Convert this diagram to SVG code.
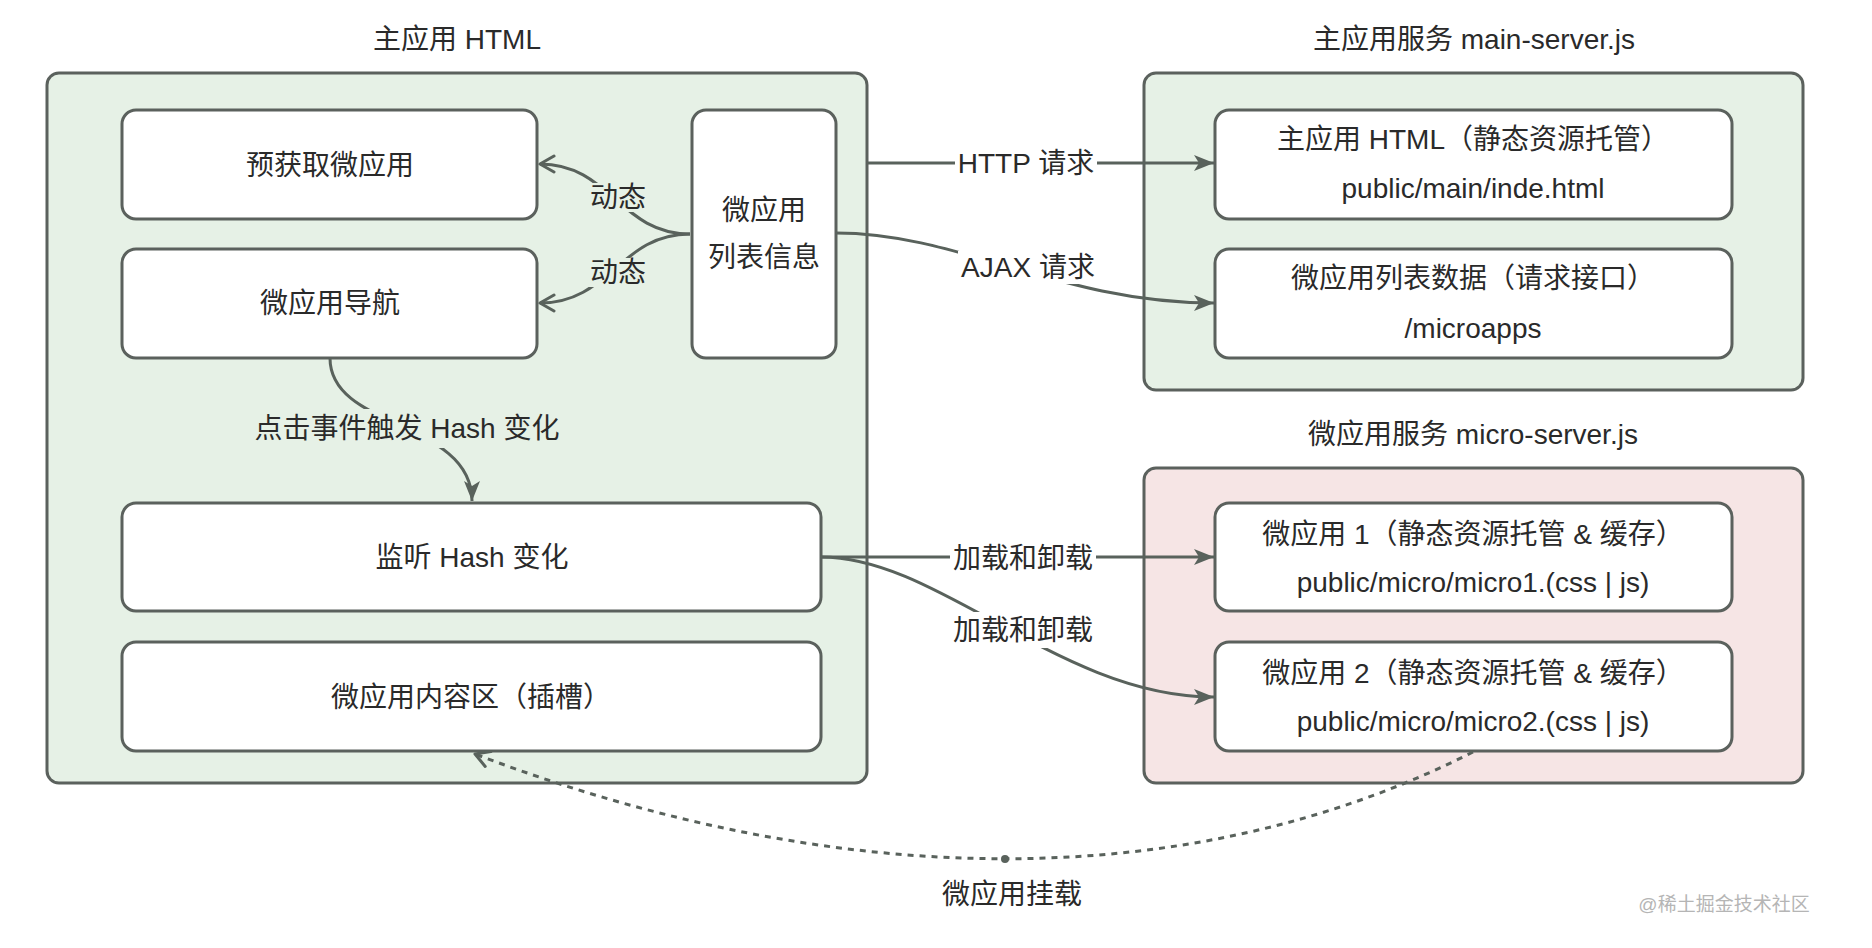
<svg xmlns="http://www.w3.org/2000/svg" width="1872" height="948" viewBox="0 0 1872 948">
<style>
  text { font-family: "Liberation Sans", "Noto Sans CJK SC", sans-serif; font-size: 28px; fill: #2a2a2a; text-anchor: middle; }
  .container-green { fill: #e6f1e6; stroke: #5b615d; stroke-width: 3; }
  .container-pink { fill: #f6e5e5; stroke: #5b615d; stroke-width: 3; }
  .node { fill: #ffffff; stroke: #5b615d; stroke-width: 3; }
  .edge { fill: none; stroke: #59625c; stroke-width: 3; }
  .dotted { fill: none; stroke: #59625c; stroke-width: 3; stroke-dasharray: 6 6; }
  .bg-green { fill: #e6f1e6; }
  .bg-white { fill: #ffffff; }
  .watermark { font-size: 19px; fill: #b5b5b5; }
</style>
<defs>
  <marker id="arrowFilled" markerUnits="userSpaceOnUse" markerWidth="24" markerHeight="20" refX="21" refY="9" orient="auto">
    <path d="M1,1 L21,9 L1,17 L6,9 Z" fill="#59625c"/>
  </marker>
  <marker id="arrowOpen" markerUnits="userSpaceOnUse" markerWidth="22" markerHeight="22" refX="17" refY="10" orient="auto">
    <path d="M3,2 L17,10 L3,18" fill="none" stroke="#59625c" stroke-width="3" stroke-linecap="round" stroke-linejoin="round"/>
  </marker>
</defs>
<rect width="1872" height="948" fill="#ffffff"/>

<g id="main-html">
  <text x="457" y="49">主应用 HTML</text>
  <rect class="container-green" x="47" y="73" width="820" height="710" rx="12"/>
</g>
<g id="main-server">
  <text x="1474" y="49">主应用服务 main-server.js</text>
  <rect class="container-green" x="1144" y="73" width="659" height="317" rx="12"/>
</g>
<g id="micro-server">
  <text x="1473" y="444">微应用服务 micro-server.js</text>
  <rect class="container-pink" x="1144" y="468" width="659" height="315" rx="12"/>
</g>

<g id="node-prefetch">
  <rect class="node" x="122" y="110" width="415" height="109" rx="14"/>
  <text x="330" y="175">预获取微应用</text>
</g>
<g id="node-nav">
  <rect class="node" x="122" y="249" width="415" height="109" rx="14"/>
  <text x="330" y="313">微应用导航</text>
</g>
<g id="node-list">
  <rect class="node" x="692" y="110" width="144" height="248" rx="14"/>
  <text x="764" y="220">微应用</text>
  <text x="764" y="267">列表信息</text>
</g>
<g id="node-listen">
  <rect class="node" x="122" y="503" width="699" height="108" rx="14"/>
  <text x="472" y="567">监听 Hash 变化</text>
</g>
<g id="node-slot">
  <rect class="node" x="122" y="642" width="699" height="109" rx="14"/>
  <text x="471" y="707">微应用内容区（插槽）</text>
</g>
<g id="node-main-static">
  <rect class="node" x="1215" y="110" width="517" height="109" rx="14"/>
  <text x="1473" y="149">主应用 HTML（静态资源托管）</text>
  <text x="1473" y="198">public/main/inde.html</text>
</g>
<g id="node-microapps">
  <rect class="node" x="1215" y="249" width="517" height="109" rx="14"/>
  <text x="1473" y="288">微应用列表数据（请求接口）</text>
  <text x="1473" y="338">/microapps</text>
</g>
<g id="node-micro1">
  <rect class="node" x="1215" y="503" width="517" height="108" rx="14"/>
  <text x="1473" y="544">微应用 1（静态资源托管 &amp; 缓存）</text>
  <text x="1473" y="592">public/micro/micro1.(css | js)</text>
</g>
<g id="node-micro2">
  <rect class="node" x="1215" y="642" width="517" height="109" rx="14"/>
  <text x="1473" y="683">微应用 2（静态资源托管 &amp; 缓存）</text>
  <text x="1473" y="731">public/micro/micro2.(css | js)</text>
</g>

<g id="connectors">
  <path class="edge" d="M690,234 C620,234 610,164 540,164" marker-end="url(#arrowOpen)"/>
  <path class="edge" d="M690,234 C620,234 610,303 540,303" marker-end="url(#arrowOpen)"/>
  <path class="edge" d="M330,358 C330,430 472,420 472,501" marker-end="url(#arrowFilled)"/>
  <path class="edge" d="M868,163 L1214,163" marker-end="url(#arrowFilled)"/>
  <path class="edge" d="M836,233 C960,233 1060,303 1214,303" marker-end="url(#arrowFilled)"/>
  <path class="edge" d="M821,557 L1214,557" marker-end="url(#arrowFilled)"/>
  <path class="edge" d="M821,557 C940,557 1060,697 1214,697" marker-end="url(#arrowFilled)"/>
  <path class="dotted" d="M1473,752 C1190,895 840,893 475,754" marker-end="url(#arrowOpen)"/>
  <circle cx="1005" cy="859" r="4" fill="#59625c"/>

  <g class="label">
    <rect class="bg-green" x="588" y="183" width="60" height="29"/>
    <text x="618" y="207">动态</text>
  </g>
  <g class="label">
    <rect class="bg-green" x="588" y="258" width="60" height="29"/>
    <text x="618" y="282">动态</text>
  </g>
  <g class="label">
    <rect class="bg-green" x="250" y="409" width="316" height="39"/>
    <text x="407" y="438">点击事件触发 Hash 变化</text>
  </g>
  <g class="label">
    <rect class="bg-white" x="955" y="146" width="142" height="34"/>
    <text x="1026" y="173">HTTP 请求</text>
  </g>
  <g class="label">
    <rect class="bg-white" x="958" y="251" width="141" height="33"/>
    <text x="1028" y="277">AJAX 请求</text>
  </g>
  <g class="label">
    <rect class="bg-white" x="950" y="541" width="146" height="34"/>
    <text x="1023" y="568">加载和卸载</text>
  </g>
  <g class="label">
    <rect class="bg-white" x="950" y="612" width="146" height="36"/>
    <text x="1023" y="640">加载和卸载</text>
  </g>
  <text x="1012" y="904">微应用挂载</text>
</g>

<text class="watermark" x="1724" y="911">@稀土掘金技术社区</text>
</svg>
